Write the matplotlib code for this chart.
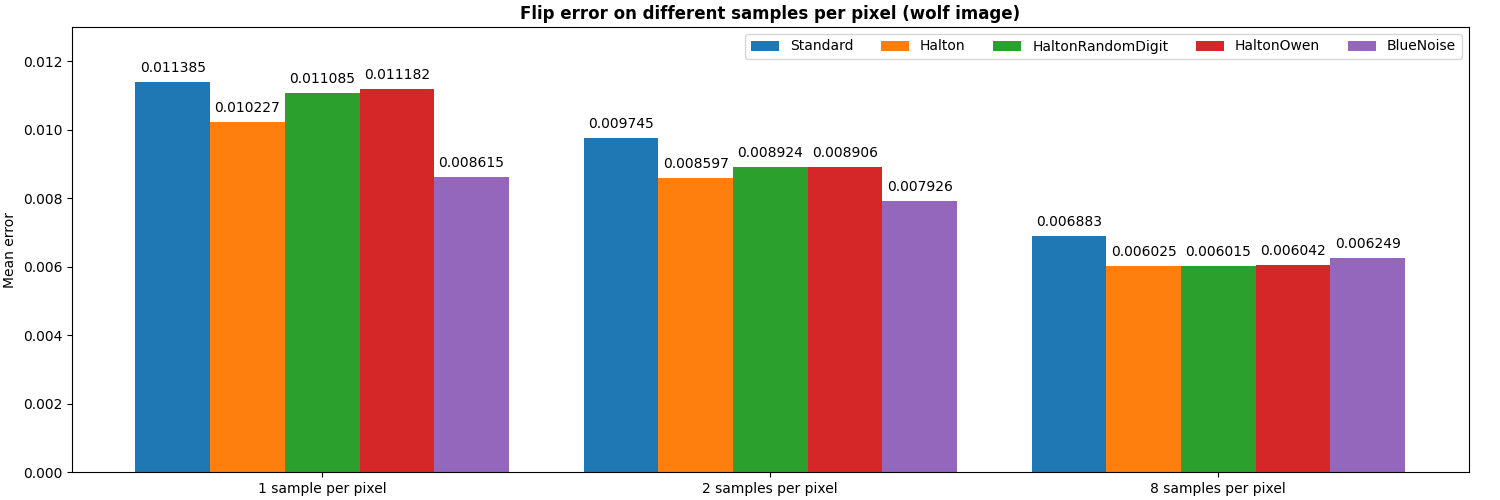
import matplotlib
matplotlib.use("Agg")
import matplotlib.pyplot as plt
import numpy as np

categories = ["1 sample per pixel", "2 samples per pixel", "8 samples per pixel"]
series = ["Standard", "Halton", "HaltonRandomDigit", "HaltonOwen", "BlueNoise"]
values = [
    [0.011385, 0.009745, 0.006883],
    [0.010227, 0.008597, 0.006025],
    [0.011085, 0.008924, 0.006015],
    [0.011182, 0.008906, 0.006042],
    [0.008615, 0.007926, 0.006249],
]

fig, ax = plt.subplots(figsize=(15, 5), dpi=100)
x = np.arange(len(categories))
w = 1 / 6
for i, (name, vals) in enumerate(zip(series, values)):
    bars = ax.bar(x + (i - 2) * w, vals, w, label=name)
    ax.bar_label(bars, labels=[f"{v:.6f}" for v in vals], padding=5)
ax.set_xticks(x)
ax.set_xticklabels(categories)
ax.set_ylim(0, 0.013)
ax.set_ylabel("Mean error")
ax.set_title("Flip error on different samples per pixel (wolf image)", fontweight="bold")
ax.legend(ncol=5, loc="upper right")
fig.subplots_adjust(left=0.048, right=0.979, top=0.946, bottom=0.056)
fig.savefig("out.png")
